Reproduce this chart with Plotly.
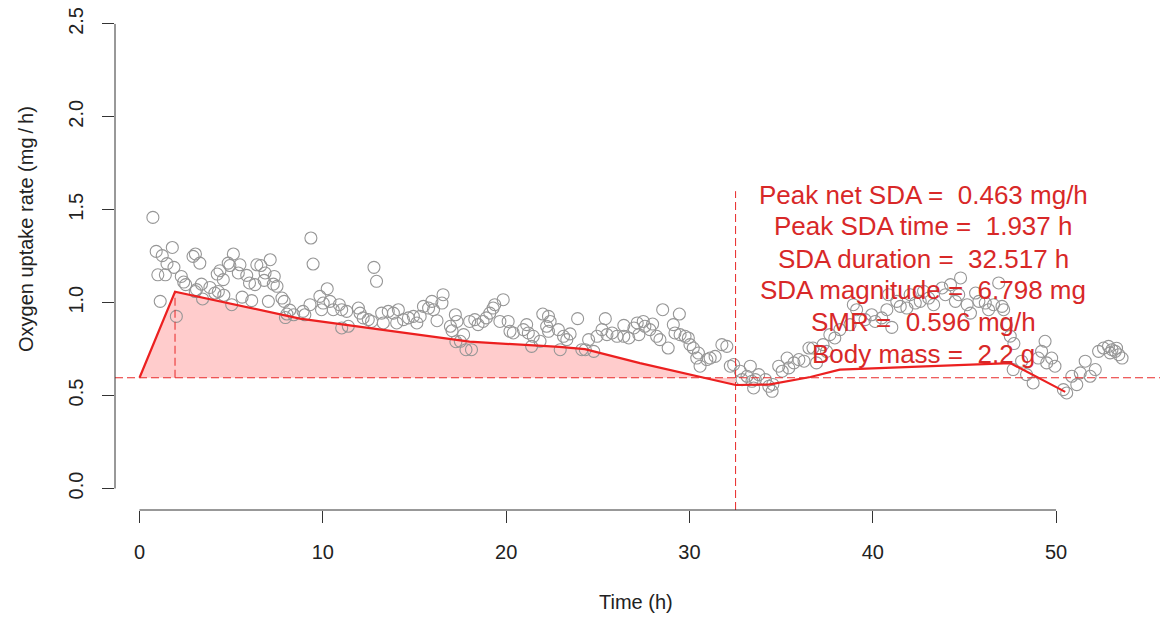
import plotly.graph_objects as go

# Measured oxygen uptake (time in h, rate in mg/h)
time_h = [
    0.73, 0.91, 1.0, 1.13, 1.24, 1.41, 1.5, 1.79, 1.88, 2.01, 2.28, 2.41, 2.52, 2.92, 3.04, 3.05,
    3.11, 3.29, 3.38, 3.44, 3.84, 4.11, 4.24, 4.3, 4.39, 4.57, 4.6, 4.84, 4.93, 5.03, 5.12, 5.39,
    5.48, 5.6, 5.85, 6.0, 6.12, 6.3, 6.4, 6.62, 6.8, 6.85, 7.03, 7.13, 7.3, 7.35, 7.5, 7.77,
    7.89, 7.96, 8.04, 8.2, 8.41,
    8.92, 9.02, 9.3, 9.35, 9.47, 9.84, 9.93, 10.02, 10.24, 10.39, 10.57, 10.9, 11.03, 11.03, 11.3, 11.39,
    11.94, 12.03, 12.2, 12.48, 12.66, 12.79, 12.93, 13.21, 13.3, 13.57, 13.85, 14.03, 14.12, 14.4, 14.67, 14.94,
    15.13, 15.31, 15.49, 15.77, 15.95, 16.04, 16.23, 16.5, 16.56, 16.96, 17.05, 17.23, 17.26, 17.32, 17.5, 17.68,
    17.81,
    18.01, 18.11, 18.29, 18.47, 18.74, 18.92, 19.11, 19.29, 19.38, 19.66, 19.84, 20.11, 20.21, 20.39, 20.94, 21.12,
    21.21, 21.39, 21.48, 21.85, 22.0, 22.21, 22.31, 22.31, 22.4, 22.85, 22.95, 23.13, 23.31, 23.49, 23.9, 24.13,
    24.32, 24.5, 24.78, 24.96, 25.23, 25.41, 25.5, 25.78, 26.05, 26.42, 26.42, 26.69, 26.97, 27.15, 27.24,
    27.48, 27.57, 27.84, 27.99, 28.21, 28.39, 28.54, 28.84, 29.12, 29.21, 29.45, 29.49, 29.76, 29.94, 30.03, 30.21,
    30.4, 30.49, 30.58, 30.95, 31.13, 31.4, 31.77, 32.04, 32.23, 32.41, 32.77, 32.87, 33.14, 33.32, 33.41, 33.5,
    33.6, 33.78, 34.15, 34.33, 34.51, 34.55, 34.87, 35.06, 35.33, 35.42, 35.7, 35.97, 36.25, 36.52,
    36.74, 36.93, 37.29, 37.48, 37.66, 37.93, 38.21, 38.76, 38.94, 39.12, 39.58, 39.94, 40.13, 40.49, 40.77, 40.86,
    41.04, 41.31, 41.5, 41.86, 42.04, 42.32, 42.59, 42.77, 43.05, 43.32, 43.78, 43.96, 44.24, 44.51, 44.69, 44.79,
    45.15, 45.33, 45.61, 45.79, 46.14, 46.32, 46.59, 46.87, 47.05, 47.14, 47.3, 47.5, 47.7,
    47.66, 48.12, 48.39, 48.75, 49.03, 49.21, 49.4, 49.49, 49.76, 49.94, 50.4, 50.58, 50.86, 51.13, 51.32, 51.59,
    51.86, 52.14, 52.32, 52.59, 52.86, 52.95, 53.05, 53.23, 53.3, 53.42, 53.6,
]
rate_mg_h = [
    1.459, 1.276, 1.15, 1.007, 1.253, 1.15, 1.21, 1.297, 1.19, 0.926, 1.141, 1.111, 1.097, 1.249, 1.06, 1.262,
    1.07, 1.213, 1.10, 1.02, 1.082, 1.052, 1.154, 1.06, 1.172, 1.124, 1.04, 1.213, 1.20, 0.989, 1.262, 1.16,
    1.204, 1.03, 1.147, 1.106, 1.011, 1.097, 1.204, 1.20, 1.12, 1.16, 1.007, 1.231, 1.10, 1.141, 1.088, 1.025,
    1.007, 0.92, 0.939, 0.96, 0.935,
    0.953, 0.935, 0.989, 1.348, 1.208, 1.034, 0.962, 0.998, 1.075, 1.007, 0.962, 0.989, 0.962, 0.864, 0.953, 0.873,
    0.971, 0.944, 0.918, 0.909, 0.899, 1.19, 1.115, 0.944, 0.891, 0.953, 0.944, 0.891, 0.962, 0.909, 0.918, 0.926,
    0.891, 0.926, 0.98, 0.971, 1.007, 0.962, 0.903, 0.998, 1.043, 0.873, 0.849, 0.935, 0.79, 0.899, 0.792, 0.828,
    0.747,
    0.899, 0.747, 0.909, 0.882, 0.899, 0.918, 0.944, 0.971, 0.989, 0.899, 1.016, 0.899, 0.846, 0.837, 0.855, 0.882,
    0.837, 0.765, 0.819, 0.792, 0.939, 0.873, 0.926, 0.846, 0.899, 0.855, 0.747, 0.819, 0.801, 0.832, 0.914, 0.747,
    0.747, 0.801, 0.738, 0.819, 0.855, 0.914, 0.828, 0.837, 0.819, 0.878, 0.819, 0.81, 0.864, 0.891, 0.828,
    0.899, 0.873, 0.855, 0.885, 0.819, 0.801, 0.962, 0.756, 0.882, 0.837, 0.939, 0.828, 0.819, 0.81, 0.774, 0.756,
    0.702, 0.729, 0.658, 0.694, 0.702, 0.711, 0.774, 0.765, 0.658, 0.667, 0.631, 0.586, 0.604, 0.658, 0.577, 0.541,
    0.586, 0.613, 0.586, 0.55, 0.523, 0.56, 0.658, 0.631, 0.702, 0.649, 0.676, 0.694, 0.685, 0.756,
    0.756, 0.676, 0.774, 0.738, 0.828, 0.81, 0.855, 0.882, 0.989, 0.962, 0.909, 0.935, 0.899, 0.918, 0.962, 1.043,
    0.867, 1.007, 0.98, 0.971, 1.043, 0.998, 1.007, 1.061, 1.025, 0.989, 1.079, 1.043, 1.097, 1.007, 1.043, 1.133,
    0.989, 0.944, 1.052, 1.007, 0.998, 0.962, 0.989, 1.106, 0.98, 0.962, 0.88, 0.82, 0.78,
    0.64, 0.685, 0.613, 0.568, 0.702, 0.738, 0.792, 0.676, 0.702, 0.658, 0.532, 0.514, 0.604, 0.559, 0.622, 0.685,
    0.604, 0.64, 0.738, 0.756, 0.765, 0.73, 0.747, 0.738, 0.755, 0.72, 0.702,
]

# Fitted SDA curve
curve_time = [0, 1.937, 8.75, 18.0, 22.9, 24.3, 27.3, 32.517, 34.4, 36.6, 38.2, 45.85, 47.5, 50.5]
curve_rate = [0.596, 1.059, 0.914, 0.79, 0.762, 0.75, 0.675, 0.557, 0.56, 0.60, 0.64, 0.67, 0.675, 0.52]

# Summary statistics
smr = 0.596
peak_net_sda = 0.463
peak_time = 1.937
sda_duration = 32.517
sda_magnitude = 6.798
body_mass = 2.2

x_ticks = [0, 10, 20, 30, 40, 50]
y_ticks = [0.0, 0.5, 1.0, 1.5, 2.0, 2.5]

RED_LINE = "rgb(236,32,32)"
RED_DASH = "rgb(232,40,40)"
RED_TEXT = "rgb(216,40,40)"
FONT = "Liberation Sans, Arial, sans-serif"
Y_MIN, Y_MAX = -0.1157, 2.618

fig = go.Figure()

# Shaded SDA area between the curve and SMR up to the end of the SDA
area_t = [t for t in curve_time if t <= sda_duration]
area_r = [r for t, r in zip(curve_time, curve_rate) if t <= sda_duration]
fig.add_trace(go.Scatter(
    x=area_t + area_t[::-1],
    y=area_r + [smr] * len(area_t),
    fill="toself", fillcolor="rgba(255,0,0,0.2)",
    line=dict(width=0), mode="lines", hoverinfo="skip",
))

# Observations
fig.add_trace(go.Scatter(
    x=time_h, y=rate_mg_h, mode="markers",
    marker=dict(symbol="circle-open", size=12, color="rgb(150,150,150)",
                line=dict(width=1.1, color="rgb(150,150,150)")),
))

# SDA curve
fig.add_trace(go.Scatter(
    x=curve_time, y=curve_rate, mode="lines",
    line=dict(color=RED_LINE, width=2.2),
))

dash = "8px,4px"
shapes = [
    # SMR line
    dict(type="line", xref="paper", yref="y", x0=0, x1=1, y0=smr, y1=smr,
         line=dict(color=RED_DASH, width=1, dash=dash)),
    # end of SDA
    dict(type="line", xref="x", yref="y", x0=sda_duration, x1=sda_duration, y0=Y_MIN, y1=1.6,
         line=dict(color=RED_DASH, width=1, dash=dash)),
    # peak SDA
    dict(type="line", xref="x", yref="y", x0=peak_time, x1=peak_time, y0=smr, y1=smr + peak_net_sda,
         line=dict(color=RED_DASH, width=1, dash=dash)),
    # axis lines spanning the tick range
    dict(type="line", xref="x", yref="paper", x0=x_ticks[0], x1=x_ticks[-1], y0=0, y1=0,
         line=dict(color="#333", width=1)),
    dict(type="line", xref="paper", yref="y", x0=0, x1=0, y0=y_ticks[0], y1=y_ticks[-1],
         line=dict(color="#333", width=1)),
]

lines = [
    f"Peak net SDA = \u00a0{peak_net_sda:.3f} mg/h",
    f"Peak SDA time = \u00a0{peak_time:.3f} h",
    f"SDA duration = \u00a0{sda_duration:.3f} h",
    f"SDA magnitude = \u00a0{sda_magnitude:.3f} mg",
    f"SMR = \u00a0{smr:.3f} mg/h",
    f"Body mass = \u00a0{body_mass} g",
]
line_y = [1.580, 1.413, 1.237, 1.068, 0.896, 0.726]
annotations = [
    dict(x=42.75, y=yy, xref="x", yref="y", text=txt, showarrow=False,
         font=dict(family=FONT, size=26, color=RED_TEXT), xanchor="center", yanchor="middle")
    for txt, yy in zip(lines, line_y)
]
annotations += [
    dict(x=0.4986, y=-0.181, xref="paper", yref="paper", text="Time (h)", showarrow=False,
         font=dict(family=FONT, size=20, color="#222"), xanchor="center", yanchor="middle"),
    dict(x=-0.0852, y=0.553, xref="paper", yref="paper", text="Oxygen uptake rate (mg\u2009/\u2009h)",
         showarrow=False, textangle=-90,
         font=dict(family=FONT, size=20, color="#222"), xanchor="center", yanchor="middle"),
]

fig.update_layout(
    width=1160, height=619,
    margin=dict(l=115, r=0, t=2, b=109),
    paper_bgcolor="white", plot_bgcolor="white",
    showlegend=False,
    shapes=shapes, annotations=annotations,
    font=dict(family=FONT, size=20, color="#222"),
)
fig.update_xaxes(
    range=[-1.337, 55.67], tickvals=x_ticks, ticktext=[str(v) for v in x_ticks],
    ticks="outside", ticklen=12, tickcolor="#333", tickwidth=1,
    showgrid=False, zeroline=False, showline=False, ticklabelstandoff=12,
    tickfont=dict(family=FONT, size=20, color="#222"),
)
fig.update_yaxes(
    range=[Y_MIN, Y_MAX], tickvals=y_ticks, ticktext=[f"{v:.1f}" for v in y_ticks],
    ticks="outside", ticklen=12, tickcolor="#333", tickwidth=1, tickangle=-90,
    showgrid=False, zeroline=False, showline=False, ticklabelstandoff=11,
    tickfont=dict(family=FONT, size=20, color="#222"),
)

fig.write_html("out.html")
